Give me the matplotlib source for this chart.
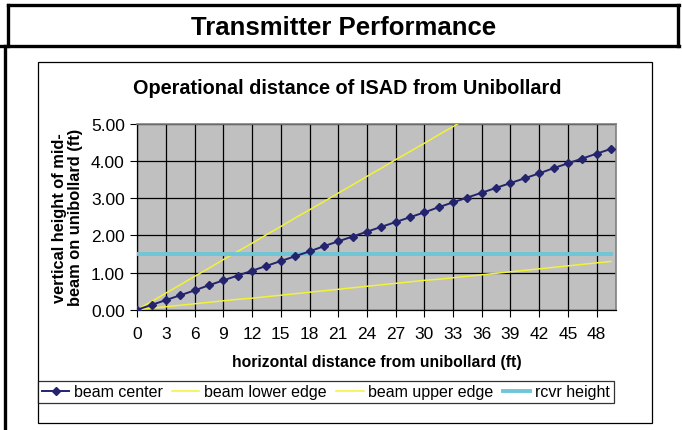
import matplotlib
matplotlib.use('Agg')
import matplotlib.pyplot as plt
from matplotlib.lines import Line2D
from matplotlib.patches import Rectangle

plt.rcParams['font.family'] = ['Liberation Sans', 'DejaVu Sans']

# distance from unibollard (ft), one point every 1.5 ft
dist = [0, 1.5, 3, 4.5, 6, 7.5, 9, 10.5, 12, 13.5, 15, 16.5, 18, 19.5, 21, 22.5,
        24, 25.5, 27, 28.5, 30, 31.5, 33, 34.5, 36, 37.5, 39, 40.5, 42, 43.5,
        45, 46.5, 48, 49.5]
beam_center = [0, 0.13, 0.26, 0.39, 0.52, 0.66, 0.79, 0.92, 1.05, 1.18, 1.31,
               1.44, 1.57, 1.71, 1.84, 1.97, 2.10, 2.23, 2.36, 2.49, 2.62, 2.76,
               2.89, 3.02, 3.15, 3.28, 3.41, 3.54, 3.67, 3.81, 3.94, 4.07, 4.20, 4.33]
beam_lower = [0, 0.04, 0.08, 0.12, 0.16, 0.20, 0.24, 0.28, 0.31, 0.35, 0.39,
              0.43, 0.47, 0.51, 0.55, 0.59, 0.63, 0.67, 0.71, 0.75, 0.79, 0.82,
              0.86, 0.90, 0.94, 0.98, 1.02, 1.06, 1.10, 1.14, 1.18, 1.22, 1.26, 1.30]
beam_upper = [0, 0.22, 0.45, 0.67, 0.90, 1.12, 1.35, 1.57, 1.79, 2.02, 2.24,
              2.47, 2.69, 2.91, 3.14, 3.36, 3.59, 3.81, 4.04, 4.26, 4.48, 4.71,
              4.93, 5.16, 5.38, 5.61, 5.83, 6.05, 6.28, 6.50, 6.73, 6.95, 7.17, 7.40]
rcvr_height = [1.5] * len(dist)

x_ticks = list(range(0, 49, 3))
y_ticks = [0, 1, 2, 3, 4, 5]

W, H = 682, 431
fig = plt.figure(figsize=(W / 100, H / 100), dpi=100)


def fx(px):
    return px / W


def fy(py):
    return 1 - py / H


# table borders
for (x0, y0, x1, y1) in [(8, 6, 679, 6), (0, 47, 679, 47), (8, 6, 8, 47),
                         (678, 6, 678, 47), (5, 47, 5, 431)]:
    fig.add_artist(Line2D([fx(x0), fx(x1)], [fy(y0), fy(y1)], color='black', lw=2.4))

# chart object frame
fig.add_artist(Rectangle((fx(38), fy(424)), fx(652) - fx(38), fy(63) - fy(424),
                         fill=False, edgecolor='black', lw=0.9))

fig.text(fx(344), fy(28), 'Transmitter Performance', ha='center', va='center',
         fontsize=18.5, fontweight='bold')
fig.text(fx(347), fy(89), 'Operational distance of ISAD from Unibollard',
         ha='center', va='center', fontsize=14.3, fontweight='bold')

ax = fig.add_axes([fx(137.3), fy(310.7), fx(615.7) - fx(137.3), fy(125) - fy(310.7)])
ax.set_facecolor('#C0C0C0')
ax.set_xlim(0, 50)
ax.set_ylim(0, 5)

ax.plot(dist, beam_lower, color='#F2F238', lw=1.1, zorder=3, label='beam lower edge')
ax.plot(dist, beam_upper, color='#F2F238', lw=1.1, zorder=3, label='beam upper edge')
ax.plot(dist, rcvr_height, color='#6FC6D6', lw=2.8, zorder=4, label='rcvr height')
ax.plot(dist, beam_center, color='#24246E', lw=1.4, marker='D', markersize=4,
        zorder=5, label='beam center')

ax.set_xticks(x_ticks)
ax.set_xticklabels([str(t) for t in x_ticks])
ax.set_yticks(y_ticks)
ax.set_yticklabels(['%.2f' % t for t in y_ticks])
ax.tick_params(axis='both', direction='out', length=5, width=0.8, labelsize=12.5,
               color='black')
ax.tick_params(axis='x', pad=7)
ax.tick_params(axis='y', pad=4)
ax.grid(True, color='black', lw=0.9)
ax.set_axisbelow(True)
for s in ['top', 'right']:
    ax.spines[s].set_color('#808080')
    ax.spines[s].set_linewidth(1.2)
for s in ['left', 'bottom']:
    ax.spines[s].set_color('black')
    ax.spines[s].set_linewidth(0.9)

ax.set_xlabel('horizontal distance from unibollard (ft)', fontsize=11.3,
              fontweight='bold', labelpad=9)
ax.set_ylabel('vertical height of mid-\nbeam on unibollard (ft)', fontsize=11.8,
              fontweight='bold', labelpad=6, linespacing=1.05)

handles, labels = ax.get_legend_handles_labels()
order = [3, 0, 1, 2]
leg = fig.legend([handles[i] for i in order], [labels[i] for i in order],
                 loc='center', bbox_to_anchor=(fx(326), fy(393)), ncol=4,
                 fontsize=11.5, frameon=True, fancybox=False, handlelength=1.7,
                 handletextpad=0.3, columnspacing=0.6, borderpad=0.25)
leg.get_frame().set_edgecolor('black')
leg.get_frame().set_linewidth(0.9)

fig.savefig('out.png', dpi=100)
